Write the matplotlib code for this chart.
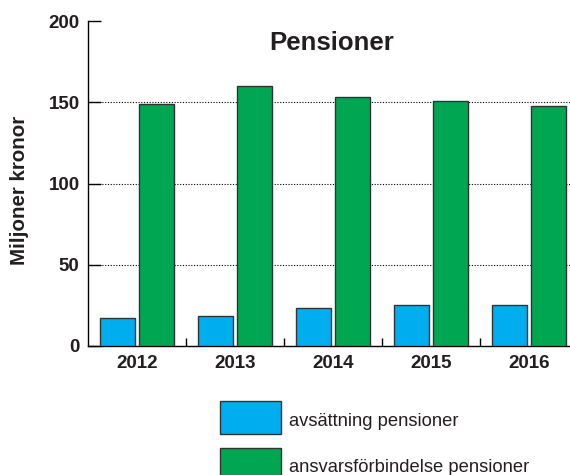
import numpy as np
import matplotlib.pyplot as plt
from matplotlib.patches import Rectangle

years = ["2012", "2013", "2014", "2015", "2016"]
avsattning = [17, 18.3, 23.2, 25.4, 25.4]
ansvar = [148.7, 159.8, 153, 151, 148]
series_labels = ["avsättning pensioner", "ansvarsförbindelse pensioner"]
yticks = [0, 50, 100, 150, 200]

plt.rcParams['font.family'] = ['Liberation Sans', 'DejaVu Sans']
txt = '#231f20'
blue = '#00aeef'
green = '#00a651'
edge = '#333333'
W, H = 570, 475

fig = plt.figure(figsize=(5.7, 4.75), dpi=100)
ax = fig.add_axes([88 / W, 1 - 346 / H, 490 / W, 325 / H])

x = np.arange(len(years))
w = 0.36
b1 = ax.bar(x - 0.2, avsattning, w, color=blue, edgecolor=edge, linewidth=1, zorder=3)
b2 = ax.bar(x + 0.2, ansvar, w, color=green, edgecolor=edge, linewidth=1, zorder=3)

ax.set_xlim(-0.5, len(years) - 0.5)
ax.set_ylim(0, 200)
ax.set_yticks(yticks)
ax.set_xticks(x)
ax.set_xticklabels(years)
ax.set_xticks(x[:-1] + 0.5, minor=True)

# dotted gridlines, not at the top
for y in yticks[1:-1]:
    ax.axhline(y, color='black', linestyle=(0, (1, 1.5)), linewidth=0.8, zorder=1)

for s in ['top', 'right']:
    ax.spines[s].set_visible(False)
for s in ['left', 'bottom']:
    ax.spines[s].set_color('black')
    ax.spines[s].set_linewidth(1)

ax.tick_params(axis='y', direction='in', length=9, width=1, labelsize=13.5,
               labelcolor=txt, pad=6)
ax.tick_params(axis='x', which='major', length=0, labelsize=13.5, labelcolor=txt, pad=6.5)
ax.tick_params(axis='x', which='minor', direction='in', length=6, width=1)
for lab in ax.get_xticklabels() + ax.get_yticklabels():
    lab.set_fontweight('bold')

fig.text(332 / W, 1 - 43 / H, "Pensioner", ha='center', va='center',
         fontsize=18.5, fontweight='bold', color=txt)
fig.text(20 / W, 1 - 190 / H, "Miljoner kronor", ha='center', va='center',
         rotation=90, fontsize=14.8, fontweight='bold', color=txt)

# legend drawn by hand: big swatches below the chart
for i, (lab, col) in enumerate(zip(series_labels, [blue, green])):
    top = 401 + 47 * i
    fig.add_artist(Rectangle((220 / W, 1 - (top + 33) / H), 61 / W, 33 / H,
                             transform=fig.transFigure, facecolor=col,
                             edgecolor=edge, linewidth=1))
    fig.text(289 / W, 1 - (top + 20) / H, lab, ha='left', va='center',
             fontsize=13.2, color=txt)

fig.savefig('out.png', dpi=100)
